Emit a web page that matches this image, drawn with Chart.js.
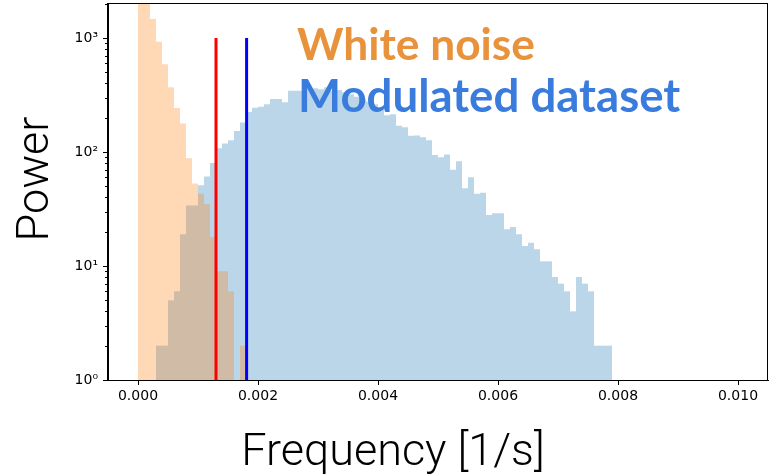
<!DOCTYPE html>
<html>
<head>
<meta charset="utf-8">
<script src="https://cdn.jsdelivr.net/npm/chart.js@4.4.0/dist/chart.umd.min.js"></script>
<style>
  html, body { margin: 0; padding: 0; background: #fff; }
</style>
</head>
<body>
<canvas id="hist" width="770" height="476"></canvas>
<script>
// histogram bin width [1/s], both histograms start at 0
const binWidth = 0.0001;

// white noise counts, one per bin
const whiteNoise = [3200, 2300, 1470, 930, 590, 370, 243, 178, 88, 53, 43, 35, 18, 9, 9, 6, null, 2];

// modulated dataset counts, one per bin
const modulated = [null, null, null, 2, 2, 5, 6, 19, 34, 34, 51, 61, 80, 108, 119, 127, 153, 182, 225, 245,
  250, 262, 292, 292, 273, 345, 345, 345, 362, 362, 355, 370, 345, 350, 335, 322, 305, 290, 278, 262,
  245, 210, 215, 170, 165, 139, 140, 135, 127, 94, 90, 95, 70, 83, 48, 60, 43, 44, 28, 29,
  29, 21, 22, 19, 15, 16, 14, 11, 11, 8, 7, 6, 4, 8, 7, 6, 2, 2, 2];

// vertical marker lines
const redLineX = 0.0013;
const blueLineX = 0.00181;
const lineBottom = 1;
const lineTop = 1000;

// axis ticks
const xTicks = [0, 0.002, 0.004, 0.006, 0.008, 0.010];
const yMajor = [1, 10, 100, 1000];
const yLabels = ['10\u2070', '10\u00b9', '10\u00b2', '10\u00b3'];
const yMinor = [2, 3, 4, 5, 6, 7, 8, 9, 20, 30, 40, 50, 60, 70, 80, 90, 200, 300, 400, 500, 600, 700, 800, 900, 2000];

const toBars = vals => vals.map((v, i) => ({x: (i + 0.5) * binWidth, y: v}));

function fitFont(ctx, text, weight, family, width){
    ctx.font = weight + ' 40px ' + family;
    let size = 40 * width / ctx.measureText(text).width;
    return weight + ' ' + size.toFixed(1) + 'px ' + family;
}

const extras = {
    id: 'extras',
    afterDraw(chart){
        const ctx = chart.ctx;
        const a = chart.chartArea;
        const y = chart.scales.y;
        ctx.save();

        // box around the axes
        ctx.strokeStyle = '#000';
        ctx.lineWidth = 1;
        ctx.strokeRect(a.left - 0.5, a.top + 0.5, a.right - a.left, a.bottom - a.top);

        // minor log ticks
        yMinor.forEach(v => {
            let py = Math.round(y.getPixelForValue(v)) + 0.5;
            ctx.beginPath();
            ctx.moveTo(a.left - 3, py);
            ctx.lineTo(a.left, py);
            ctx.stroke();
        });

        // axis titles
        ctx.fillStyle = '#000';
        ctx.font = '300 45px Roboto';
        ctx.textAlign = 'center';
        ctx.textBaseline = 'alphabetic';
        ctx.fillText('Frequency [1/s]', 393, 465);
        ctx.save();
        ctx.translate(48, 179);
        ctx.rotate(-Math.PI / 2);
        ctx.fillText('Power', 0, 0);
        ctx.restore();

        // legend-like labels
        ctx.textAlign = 'left';
        ctx.font = fitFont(ctx, 'White noise', 'bold', 'Lato', 238);
        ctx.fillStyle = '#e9923c';
        ctx.fillText('White noise', 297, 60);
        ctx.font = fitFont(ctx, 'Modulated dataset', 'bold', 'Lato', 382);
        ctx.fillStyle = '#3a7cdd';
        ctx.fillText('Modulated dataset', 298, 112);

        ctx.restore();
    }
};

const ctx = document.getElementById('hist').getContext('2d');
const histChart = new Chart(ctx, {
    type: 'bar',
    data: {
        datasets: [
            {
                type: 'line',
                data: [{x: redLineX, y: lineBottom}, {x: redLineX, y: lineTop}],
                borderColor: '#ff0000',
                borderWidth: 3,
                pointRadius: 0,
                order: 0,
            },
            {
                type: 'line',
                data: [{x: blueLineX, y: lineBottom}, {x: blueLineX, y: lineTop}],
                borderColor: '#0000ff',
                borderWidth: 3,
                pointRadius: 0,
                order: 0,
            },
            {
                label: 'White noise',
                data: toBars(whiteNoise),
                backgroundColor: 'rgba(255, 127, 14, 0.3)',
                order: 1,
            },
            {
                label: 'Modulated dataset',
                data: toBars(modulated),
                backgroundColor: 'rgba(31, 119, 180, 0.3)',
                order: 2,
            }
        ]
    },
    options: {
        responsive: false,
        devicePixelRatio: 1,
        animation: false,
        layout: {padding: {top: 3, right: 2, left: 0, bottom: 0}},
        datasets: {
            bar: {barPercentage: 1, categoryPercentage: 1, grouped: false, borderWidth: 0, inflateAmount: 0}
        },
        plugins: {legend: {display: false}, tooltip: {enabled: false}},
        scales: {
            x: {
                type: 'linear',
                min: -0.0005,
                max: 0.0105,
                offset: false,
                grid: {offset: false, drawOnChartArea: false, tickLength: 5, color: '#000', tickColor: '#000'},
                border: {color: '#000', width: 1},
                afterBuildTicks: s => { s.ticks = xTicks.map(v => ({value: v})); },
                afterFit: s => { s.height = 96; s.paddingLeft = 0; s.paddingRight = 0; },
                ticks: {
                    font: {family: 'DejaVu Sans', size: 14},
                    color: '#000',
                    padding: 3,
                    maxRotation: 0,
                    autoSkip: false,
                    callback: v => v.toFixed(3)
                }
            },
            y: {
                type: 'logarithmic',
                min: 1,
                max: 2030,
                beginAtZero: false,
                grid: {drawOnChartArea: false, tickLength: 5, color: '#000', tickColor: '#000'},
                border: {color: '#000', width: 1},
                afterBuildTicks: s => { s.ticks = yMajor.map(v => ({value: v, major: true})); },
                afterFit: s => { s.width = 108; s.paddingTop = 0; s.paddingBottom = 0; },
                ticks: {
                    font: {family: 'DejaVu Sans', size: 14},
                    color: '#000',
                    padding: 5,
                    autoSkip: false,
                    callback: (v, i) => yLabels[i]
                }
            }
        }
    },
    plugins: [extras]
});
</script>
</body>
</html>
